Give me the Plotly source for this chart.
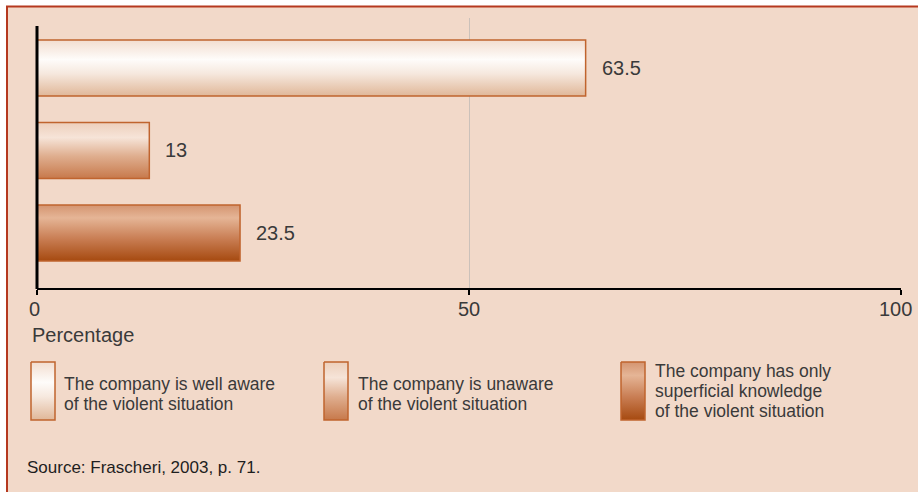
import plotly.graph_objects as go

# ---------------- data ----------------
categories = [
    "The company is well aware of the violent situation",
    "The company is unaware of the violent situation",
    "The company has only superficial knowledge of the violent situation",
]
legend_lines = [
    ["The company is well aware", "of the violent situation"],
    ["The company is unaware", "of the violent situation"],
    ["The company has only", "superficial knowledge", "of the violent situation"],
]
values = [63.5, 13, 23.5]
value_labels = ["63.5", "13", "23.5"]
x_ticks = [0, 50, 100]
x_tick_labels = ["0", "50", "100"]
x_title = "Percentage"
source_text = "Source: Frascheri, 2003, p. 71."

# ---------------- style ----------------
W, H = 918, 492
BG = "#f2d9c9"
FRAME = "#b5391f"
BORDER = "#c0642e"
TEXT = "#3a3a3a"
FONT = "Liberation Sans, Arial, sans-serif"

gradients = [
    [[0, "#f2ddcf"], [0.35, "#fefcfa"], [0.6, "#f6e8de"], [1, "#e0b798"]],
    [[0, "#edcfbb"], [0.27, "#f6e4d8"], [0.6, "#dfae8f"], [1, "#c7794b"]],
    [[0, "#d49470"], [0.23, "#e5b596"], [0.6, "#c97e54"], [1, "#a64a10"]],
]

def px_x(p):
    return p / W

def px_y(p):
    return 1 - p / H

BAR_H = 0.68
positions = list(range(len(values)))

fig = go.Figure()

# bars as gradient-filled polygons on the data axes
for i, (v, pos) in enumerate(zip(values, positions)):
    top, bot = pos - BAR_H / 2, pos + BAR_H / 2
    fig.add_trace(go.Scatter(
        x=[0, v, v, 0, 0], y=[top, top, bot, bot, top],
        mode="lines", fill="toself",
        fillgradient=dict(type="vertical", colorscale=gradients[i], start=top, stop=bot),
        line=dict(color=BORDER, width=1.5),
        name=categories[i], showlegend=False, hoverinfo="skip",
        xaxis="x", yaxis="y",
    ))

# legend swatches on a pixel-space overlay subplot
sw_x = [31, 324, 621]
sw_w = 24
sw_top, sw_bot = 362, 420
for i in range(len(values)):
    x0 = sw_x[i]
    fig.add_trace(go.Scatter(
        x=[x0, x0 + sw_w, x0 + sw_w, x0, x0],
        y=[sw_top, sw_top, sw_bot, sw_bot, sw_top],
        mode="lines", fill="toself",
        fillgradient=dict(type="vertical", colorscale=gradients[i], start=sw_top, stop=sw_bot),
        line=dict(color=BORDER, width=1.5),
        showlegend=False, hoverinfo="skip",
        xaxis="x2", yaxis="y2",
    ))

annotations = []
# value labels
for v, pos, lab in zip(values, positions, value_labels):
    annotations.append(dict(
        x=v, y=pos, xref="x", yref="y", text=lab, showarrow=False,
        xanchor="left", yanchor="middle", xshift=14,
        font=dict(family=FONT, size=20, color=TEXT),
    ))

# x tick labels
tick_shift = [-3, 0, -6]
for t, lab, sh in zip(x_ticks, x_tick_labels, tick_shift):
    annotations.append(dict(
        x=t, y=px_y(309), xref="x", yref="paper", text=lab, showarrow=False,
        xanchor="center", yanchor="middle", xshift=sh,
        font=dict(family=FONT, size=20, color=TEXT),
    ))

# axis title
annotations.append(dict(
    x=px_x(30), y=px_y(335), xref="paper", yref="paper", text=x_title,
    showarrow=False, xanchor="left", yanchor="middle",
    font=dict(family=FONT, size=20, color=TEXT),
))

# legend texts
text_x = [62, 356, 653]
centers = [394, 394, 391]
line_gap = 20
for i, lines in enumerate(legend_lines):
    n = len(lines)
    for k, ln in enumerate(lines):
        yc = centers[i] + (k - (n - 1) / 2) * line_gap
        annotations.append(dict(
            x=px_x(text_x[i]), y=px_y(yc), xref="paper", yref="paper", text=ln,
            showarrow=False, xanchor="left", yanchor="middle",
            font=dict(family=FONT, size=17.5, color=TEXT),
        ))

# source
annotations.append(dict(
    x=px_x(25), y=px_y(467), xref="paper", yref="paper", text=source_text,
    showarrow=False, xanchor="left", yanchor="middle",
    font=dict(family=FONT, size=17, color="#1e1e1e"),
))

shapes = [
    # frame
    dict(type="rect", xref="paper", yref="paper",
         x0=px_x(7), y0=px_y(6.5), x1=1.05, y1=-0.05,
         fillcolor=BG, line=dict(color=FRAME, width=2), layer="below"),
    # y axis line
    dict(type="line", xref="paper", yref="paper",
         x0=px_x(37), x1=px_x(37), y0=px_y(289), y1=px_y(26),
         line=dict(color="black", width=3), layer="above"),
]

fig.update_layout(
    width=W, height=H,
    autosize=False,
    margin=dict(l=0, r=0, t=0, b=0, pad=0),
    paper_bgcolor="white",
    plot_bgcolor="rgba(0,0,0,0)",
    showlegend=False,
    xaxis=dict(
        domain=[px_x(37), px_x(901)], range=[0, 100],
        tickvals=x_ticks, showticklabels=False,
        showgrid=True, gridcolor="#cbc1ba", gridwidth=1,
        zeroline=False, showline=True, linecolor="black", linewidth=2,
        ticks="outside", ticklen=5, tickwidth=2, tickcolor="black",
        fixedrange=True, anchor="y", automargin=False,
    ),
    yaxis=dict(
        domain=[px_y(288), px_y(18)], range=[2.667, -0.606],
        visible=False, showgrid=False, zeroline=False, fixedrange=True, anchor="x",
        automargin=False,
    ),
    xaxis2=dict(domain=[0, 1], range=[0, W], visible=False, fixedrange=True,
                anchor="y2", automargin=False),
    yaxis2=dict(domain=[0, 1], range=[H, 0], visible=False, fixedrange=True,
                anchor="x2", automargin=False),
    annotations=annotations,
    shapes=shapes,
)

fig.write_html(
    "out.html",
    config={"displayModeBar": False, "responsive": False},
    post_script="document.body.style.margin='0';document.body.style.overflow='hidden';",
)
